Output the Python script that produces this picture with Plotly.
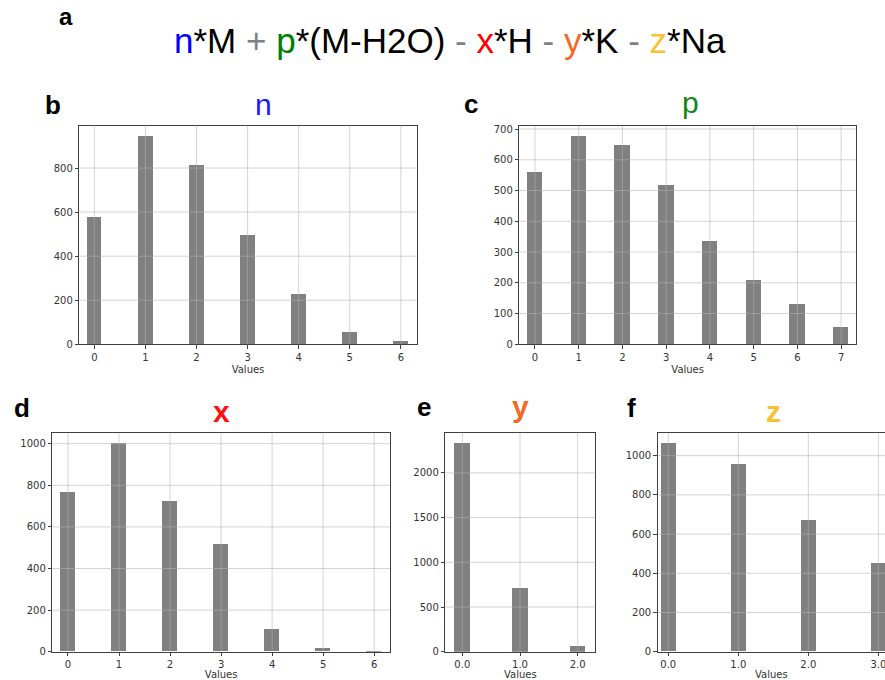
import plotly.graph_objects as go

W, H = 885, 680

# ---------------- data ----------------
n_values = [0, 1, 2, 3, 4, 5, 6]
n_counts = [579, 945, 815, 498, 230, 58, 15]

p_values = [0, 1, 2, 3, 4, 5, 6, 7]
p_counts = [561, 676, 647, 517, 337, 210, 131, 55]

x_values = [0, 1, 2, 3, 4, 5, 6]
x_counts = [765, 1000, 725, 514, 110, 14, 1]

y_values = [0.0, 1.0, 2.0]
y_counts = [2333, 721, 71]

z_values = [0.0, 1.0, 2.0, 3.0]
z_counts = [1061, 956, 670, 451]

n_yticks = [0, 200, 400, 600, 800]
p_yticks = [0, 100, 200, 300, 400, 500, 600, 700]
x_yticks = [0, 200, 400, 600, 800, 1000]
y_yticks = [0, 500, 1000, 1500, 2000]
z_yticks = [0, 200, 400, 600, 800, 1000]

# ---------------- layout config ----------------
BAR = "#808080"
FRAME = "#3f3f3f"
GRID = "rgba(176,176,176,0.55)"
TICKFONT = dict(family="DejaVu Sans", size=10, color="#333333")

panels = [
    dict(vals=n_values, counts=n_counts, yticks=n_yticks, box=(79.3, 125.7, 416.7, 344.3),
         xr=(-0.294, 6.31), bw=0.29, fmt="d", ymirror=True),
    dict(vals=p_values, counts=p_counts, yticks=p_yticks, box=(519.3, 126.0, 856.0, 344.3),
         xr=(-0.358, 7.34), bw=0.35, fmt="d", ymirror=True),
    dict(vals=x_values, counts=x_counts, yticks=x_yticks, box=(52.3, 433.3, 390.0, 651.7),
         xr=(-0.307, 6.31), bw=0.29, fmt="d", ymirror=True),
    dict(vals=y_values, counts=y_counts, yticks=y_yticks, box=(445.3, 432.7, 595.3, 651.7),
         xr=(-0.295, 2.305), bw=0.27, fmt=".1f", ymirror=True),
    dict(vals=z_values, counts=z_counts, yticks=z_yticks, box=(657.7, 433.3, 885.0, 651.7),
         xr=(-0.151, 3.095), bw=0.22, fmt=".1f", ymirror=False),
]

fig = go.Figure()
shapes = []
for i, p in enumerate(panels, start=1):
    sfx = "" if i == 1 else str(i)
    xa, ya = "x" + sfx, "y" + sfx
    fig.add_trace(go.Bar(
        x=p["vals"], y=p["counts"], width=p["bw"],
        marker=dict(color=BAR, line=dict(width=0)),
        xaxis=xa, yaxis=ya, showlegend=False,
    ))
    l, t, r, b = p["box"]
    ymax = max(p["counts"]) * 1.05
    fig.update_layout({
        "xaxis" + sfx: dict(
            domain=[l / W, r / W], anchor=ya, range=list(p["xr"]),
            tickvals=p["vals"], tickformat=p["fmt"], ticklabeloverflow="allow",
            showgrid=False, zeroline=False, showline=True, mirror=True,
            linecolor=FRAME, linewidth=1, ticks="outside", ticklen=3.5,
            tickcolor=FRAME, tickwidth=1, tickfont=TICKFONT,
            title=dict(text="Values", font=TICKFONT, standoff=4),
            automargin=False, fixedrange=True,
        ),
        "yaxis" + sfx: dict(
            domain=[1 - b / H, 1 - t / H], anchor=xa, range=[0, ymax],
            tickvals=p["yticks"],
            showgrid=False, zeroline=False, showline=True, mirror=p["ymirror"],
            linecolor=FRAME, linewidth=1, ticks="outside", ticklen=3.5,
            tickcolor=FRAME, tickwidth=1, tickfont=TICKFONT,
            automargin=False, fixedrange=True,
        ),
    })
    # grid drawn above the bars (as in the original)
    for v in p["vals"]:
        shapes.append(dict(type="line", xref=xa, yref=ya + " domain", x0=v, x1=v, y0=0, y1=1,
                           layer="above", line=dict(color=GRID, width=1)))
    for v in p["yticks"]:
        if v == 0:
            continue
        shapes.append(dict(type="line", xref=xa + " domain", yref=ya, x0=0, x1=1, y0=v, y1=v,
                           layer="above", line=dict(color=GRID, width=1)))

ARIAL = "Liberation Sans, Arial, sans-serif"
GREY = "#808080"
formula = (
    '<span style="color:#0000ff">n</span>*M '
    '<span style="color:%s">+</span> '
    '<span style="color:#008000">p</span>*(M-H2O) '
    '<span style="color:%s">-</span> '
    '<span style="color:#ff0000">x</span>*H '
    '<span style="color:%s">-</span> '
    '<span style="color:#f26a25">y</span>*K '
    '<span style="color:%s">-</span> '
    '<span style="color:#f8c235">z</span>*Na'
) % (GREY, GREY, GREY, GREY)


def ann(text, px, py, size, color="black", bold=False):
    return dict(text=("<b>%s</b>" % text) if bold else text,
                x=px / W, y=1 - py / H, xref="paper", yref="paper",
                xanchor="center", yanchor="middle", showarrow=False,
                font=dict(family=ARIAL, size=size, color=color))


annotations = [
    ann(formula, 450, 40.5, 35),
    ann("a", 66, 16.6, 24, bold=True),
    ann("b", 53, 104.9, 26, bold=True),
    ann("c", 471, 103.9, 26, bold=True),
    ann("d", 22, 407.9, 26, bold=True),
    ann("e", 424, 406.9, 26, bold=True),
    ann("f", 631, 407.9, 26, bold=True),
    ann("n", 263.5, 104.5, 30, color="#1a1aff"),
    ann("p", 690, 102.5, 30, color="#118811"),
    ann("x", 221, 411.5, 30, color="#ff1010", bold=True),
    ann("y", 520, 406.5, 30, color="#f26a25", bold=True),
    ann("z", 773, 411.5, 30, color="#f8c235", bold=True),
]

fig.update_layout(
    width=W, height=H, margin=dict(l=0, r=0, t=0, b=0),
    paper_bgcolor="white", plot_bgcolor="white",
    shapes=shapes, annotations=annotations, bargap=0,
)

fig.write_html(
    "out.html",
    config={"displayModeBar": False},
    post_script="document.body.style.margin='0';document.body.style.padding='0';"
                "document.body.style.overflow='hidden';",
)
